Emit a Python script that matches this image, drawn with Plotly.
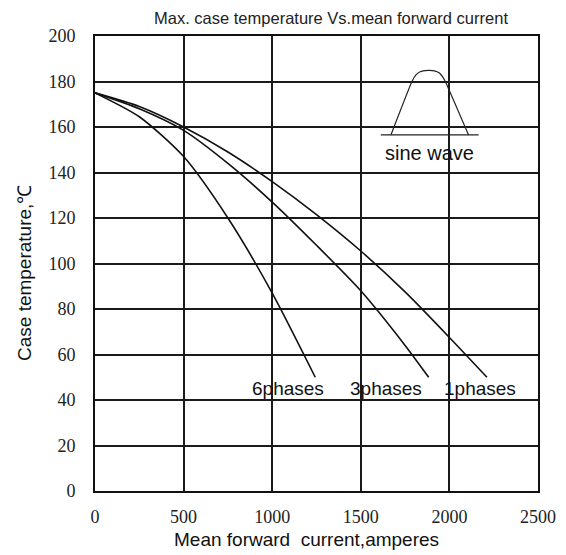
import plotly.graph_objects as go

# ---- data ----
x_1ph = [0, 250, 500, 750, 1000, 1250, 1500, 1750, 2000, 2212]
y_1ph = [175, 169, 160, 149, 136, 121.5, 105.5, 87.5, 67.5, 50]

x_3ph = [0, 250, 500, 750, 1000, 1250, 1500, 1750, 1883]
y_3ph = [175, 168, 158.5, 144, 127, 108, 88, 64, 50]

x_6ph = [0, 250, 500, 750, 1000, 1243]
y_6ph = [175, 164.5, 147, 120, 87, 50]

series_labels = ["6phases", "3phases", "1phases"]
label_x = [1091, 1644, 2175]
label_y = [45, 45, 45]

x_ticks = [0, 500, 1000, 1500, 2000, 2500]
y_ticks = [0, 20, 40, 60, 80, 100, 120, 140, 160, 180, 200]

# inset icon (sine wave pulse)
icon_x = [1670, 1790, 1810, 1835, 1862, 1888, 1915, 1942, 1962, 1978, 2108]
icon_y = [156.5, 180.2, 182.8, 184.3, 184.8, 184.9, 184.7, 183.8, 182.0, 179.8, 156.5]
icon_base_x = [1613, 2165]
icon_base_y = [156.5, 156.5]

title_text = "Max. case temperature Vs.mean forward current"
x_title = "Mean forward  current,amperes"
y_title = "Case temperature,℃"

# page has an 8px body margin; figure is placed at (8, 8)
OFF = 8
W, H = 566 - OFF, 555 - OFF
# desired plot area in page pixels: x 95..538, y 36..491
ML = 95 - OFF
MR = W - (538 - OFF)
MT = 36 - OFF
MB = H - (491 - OFF)
PW, PH = W - ML - MR, H - MT - MB


def px_to_paper(px, py):
    # page pixel -> paper coords
    return (px - OFF - ML) / PW, 1 - (py - OFF - MT) / PH


fig = go.Figure()

line_style = dict(color="#111111", width=1.6, shape="spline", smoothing=0.7)
for xs, ys in [(x_1ph, y_1ph), (x_3ph, y_3ph), (x_6ph, y_6ph)]:
    fig.add_trace(go.Scatter(x=xs, y=ys, mode="lines", line=line_style,
                             showlegend=False, hoverinfo="skip"))

fig.add_trace(go.Scatter(x=icon_x, y=icon_y, mode="lines",
                         line=dict(color="#222222", width=1.2, shape="spline", smoothing=0.5),
                         showlegend=False, hoverinfo="skip"))
fig.add_trace(go.Scatter(x=icon_base_x, y=icon_base_y, mode="lines",
                         line=dict(color="#222222", width=1.2),
                         showlegend=False, hoverinfo="skip"))

# white inset box covering the grid
fig.add_shape(type="rect", x0=1576, x1=2180, y0=143.3, y1=188.6,
              xref="x", yref="y", fillcolor="white", line=dict(width=0),
              layer="below")

sans = "Liberation Sans, Arial, sans-serif"
fig.add_annotation(x=1888, y=148.6, text="sine wave", showarrow=False,
                   xref="x", yref="y",
                   font=dict(family=sans, size=20, color="#111"))

for t, lx, ly in zip(series_labels, label_x, label_y):
    fig.add_annotation(x=lx, y=ly, text=t, showarrow=False, xref="x", yref="y",
                       font=dict(family=sans, size=19, color="#111"))

tx, ty = px_to_paper(331, 18)
fig.add_annotation(x=tx, y=ty, xref="paper", yref="paper", text=title_text,
                   showarrow=False, xanchor="center", yanchor="middle",
                   font=dict(family=sans, size=16.5, color="#222"))

ax, ay = px_to_paper(306, 539)
fig.add_annotation(x=ax, y=ay, xref="paper", yref="paper", text=x_title,
                   showarrow=False, xanchor="center", yanchor="middle",
                   font=dict(family=sans, size=19, color="#111"))

bx, by = px_to_paper(24, 273)
fig.add_annotation(x=bx, y=by, xref="paper", yref="paper", text=y_title,
                   showarrow=False, xanchor="center", yanchor="middle", textangle=-90,
                   font=dict(family=sans, size=19, color="#111"))

axis_common = dict(showgrid=True, gridcolor="#1a1a1a", gridwidth=2,
                   showline=True, linecolor="#111", linewidth=2, mirror=True,
                   zeroline=False, ticks="",
                   tickfont=dict(family="Liberation Serif, Times New Roman, serif", size=18, color="#222"))

fig.update_xaxes(range=[0, 2500], tickvals=x_ticks, ticktext=[str(v) for v in x_ticks],
                 ticklabelstandoff=8, automargin=False, **axis_common)
fig.update_yaxes(range=[0, 200], tickvals=y_ticks, ticktext=[str(v) for v in y_ticks],
                 ticklabelstandoff=14, automargin=False, **axis_common)

fig.update_layout(width=W, height=H, plot_bgcolor="white", paper_bgcolor="white",
                  margin=dict(l=ML, r=MR, t=MT, b=MB, autoexpand=False))

fig.write_html("out.html")
